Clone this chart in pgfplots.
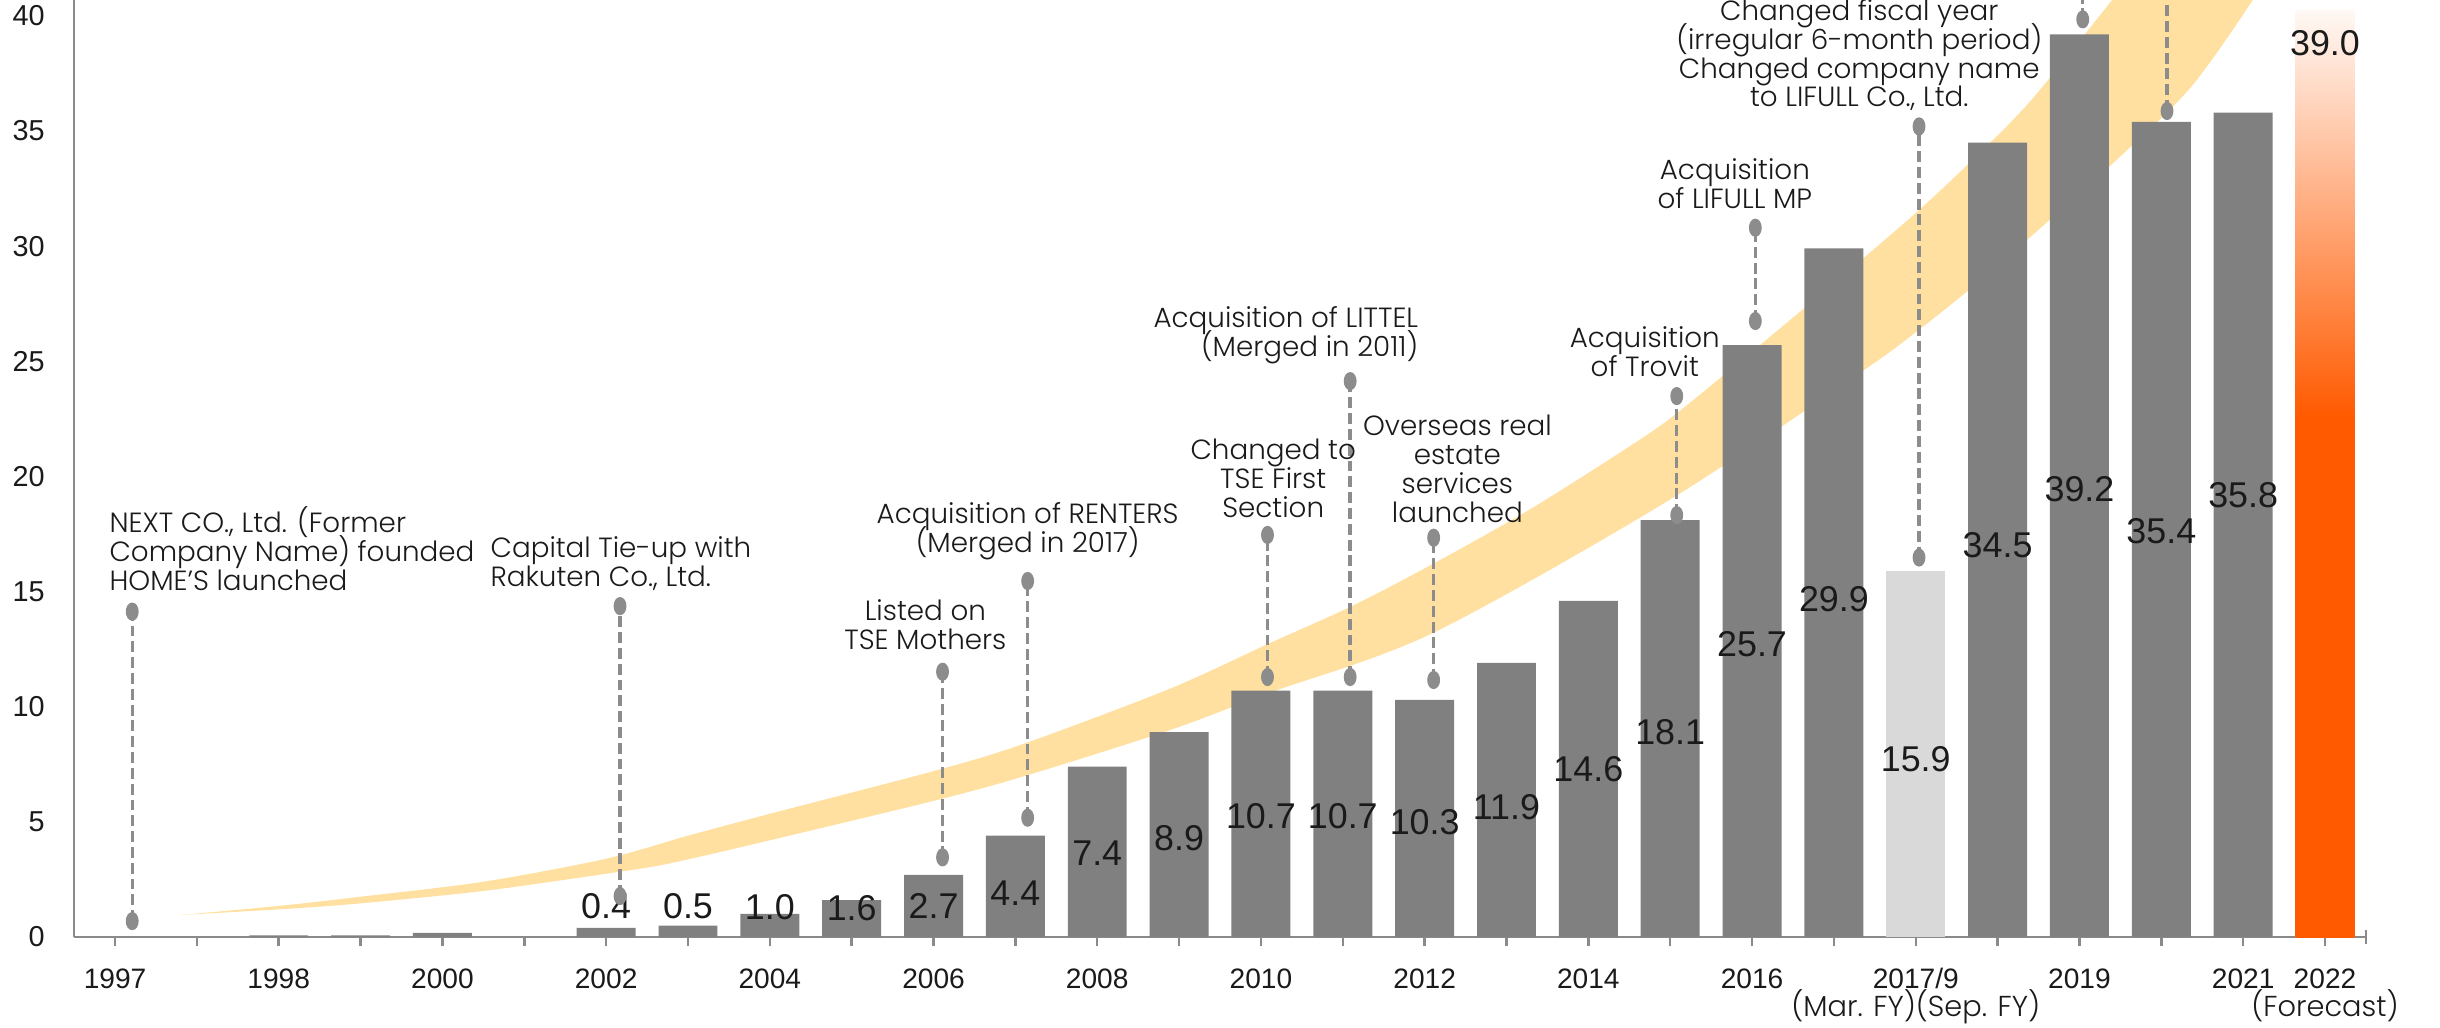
\documentclass[border=0pt]{standalone}
\usepackage{fontspec}
\setmainfont{Liberation Sans}
\newfontfamily\numfont{Liberation Sans}
\newfontfamily\annfont{Poppins Light}
\usepackage{pgfplots}
\pgfplotsset{compat=1.18}

\definecolor{bargray}{HTML}{808080}
\definecolor{lightbar}{HTML}{D9D9D9}
\definecolor{fcorange}{HTML}{FF5A00}
\definecolor{band}{HTML}{FFE0A0}
\definecolor{pincol}{HTML}{8C8C8C}
\definecolor{axisgray}{HTML}{8A8A8A}
\definecolor{txt}{HTML}{1A1A1A}

% forecast bar: solid orange in the lower part, fading out to the top
\pgfdeclareverticalshading{forecast}{100bp}{color(0bp)=(fcorange); color(25bp)=(fcorange); color(53bp)=(fcorange); color(75bp)=(fcorange!4); color(100bp)=(fcorange!4)}

\newcommand\tightlines{\lineskiplimit -20pt\relax}
\newcommand\annsize{\fontsize{7.9}{8.2}\selectfont\tightlines}
\newcommand\ticksize{\fontsize{8}{8}\selectfont\tightlines}
\newcommand\subsize{\fontsize{8.2}{8}\selectfont}
\tikzset{
  ann/.style={font=\annfont\annsize, text=txt, inner sep=0pt},
  val/.style={font=\numfont\fontsize{10.2}{12}\selectfont, text=txt, inner sep=0pt, anchor=center},
}
\pgfplotsset{
  pin/.style={color=pincol, line width=0.95pt, dash pattern=on 3.1pt off 1.4pt,
    mark=*, mark size=1.35pt, mark options={solid, yscale=1.55, fill=pincol, draw=none}},
}

\begin{document}
\begin{tikzpicture}
\path[use as bounding box] (-0.741cm,-0.90cm) rectangle (23.659cm,9.37cm);
\begin{axis}[
    scale only axis,
    width=22.918cm, height=9.37cm,
    xmin=-0.5, xmax=27.5,
    ymin=0, ymax=40.69,
    axis lines=left,
    axis line style={-, draw=axisgray, line width=0.7pt},
    tick align=outside,
    major tick length=0.09cm,
    xtick={0,...,27},
    xticklabels={1997,{},1998,{},2000,{},2002,{},2004,{},2006,{},2008,{},2010,{},2012,{},2014,{},2016,{},
      {2017/9\\{\annfont\subsize (Mar. FY)(Sep. FY)}},{},2019,{},2021,
      {2022\\{\annfont\subsize (Forecast)}}},
    x tick style={draw=axisgray, line width=0.7pt},
    xticklabel style={font=\numfont\ticksize, text=txt, align=center, yshift=-0.10cm},
    extra x ticks={22,27,27.5},
    extra x tick labels={{},{},{}},
    extra x tick style={tick align=center, major tick length=0.135cm},
    ytick={0,5,...,40},
    y tick style={draw=none},
    yticklabel style={font=\numfont\fontsize{8.2}{9.8}\selectfont, text=txt, xshift=-0.08cm},
    /pgf/number format/assume math mode=true,
]

% growth band behind the bars
\addplot[fill=band, draw=none, smooth, tension=0.5] coordinates {
  (0.78,0.95) (2.0,1.35) (3.0,1.75) (4.5,2.4) (6.0,3.4) (7.0,4.4) (8.0,5.35)
  (10.1,7.3) (11.15,8.45) (12.9,10.8) (14.1,12.75) (15.1,14.35) (16.1,16.2)
  (17.3,18.6) (18.5,21.3) (19.1,22.8) (20.4,26.6) (21.4,29.6) (22.05,31.6)
  (22.65,33.6) (23.4,36.3) (24.4,40.7) (25.0,43.5)
  (26.6,43.5) (26.12,40.7) (25.36,36.9) (24.5,33.9) (23.4,30.4) (22.65,28.1)
  (22.05,26.4) (21.36,24.6) (19.0,19.0) (16.1,13.2) (14.1,10.6) (12.9,9.0)
  (11.15,7.03) (10.1,6.0) (8.0,4.2) (6.78,3.2) (6.1,2.8) (4.5,2.0) (2.9,1.43)
  (2.0,1.2)
} --cycle;

% revenue bars
\addplot[ybar, bar width=0.72, fill=bargray, draw=none] coordinates {
  (2,0.07) (3,0.07) (4,0.18) (6,0.4) (7,0.5) (8,1.0) (9,1.6) (10,2.7) (11,4.4)
  (12,7.4) (13,8.9) (14,10.7) (15,10.7) (16,10.3) (17,11.9) (18,14.6) (19,18.1)
  (20,25.7) (21,29.9) (23,34.5) (24,39.2) (25,35.4) (26,35.8)
};
\addplot[ybar, bar width=0.72, fill=lightbar, draw=none] coordinates {(22,15.9)};
\addplot[ybar, bar width=0.72, draw=none, shading=forecast] coordinates {(27,40.25)};

% event pins
\addplot[pin] coordinates {(0.21,0.69) (0.21,14.13)};
\addplot[pin] coordinates {(6.17,1.78) (6.17,14.37)};
\addplot[pin] coordinates {(10.11,3.46) (10.11,11.52)};
\addplot[pin] coordinates {(11.15,5.18) (11.15,15.46)};
\addplot[pin] coordinates {(14.08,11.29) (14.08,17.46)};
\addplot[pin] coordinates {(15.09,11.29) (15.09,24.14)};
\addplot[pin] coordinates {(16.11,11.16) (16.11,17.34)};
\addplot[pin] coordinates {(19.08,18.32) (19.08,23.49)};
\addplot[pin] coordinates {(20.04,26.75) (20.04,30.8)};
\addplot[pin] coordinates {(22.04,16.48) (22.04,35.2)};
\addplot[pin] coordinates {(24.04,39.85) (24.04,44)};
\addplot[pin] coordinates {(25.07,35.87) (25.07,44)};

% event texts
\node[ann, anchor=west, align=left] at (axis cs:-0.075,16.86) {NEXT CO., Ltd. (Former\\Company Name) founded\\HOME’S launched};
\node[ann, anchor=west, align=left] at (axis cs:4.58,16.23) {Capital Tie-up with\\Rakuten Co., Ltd.};
\node[ann, align=center] at (axis cs:9.9,13.56) {Listed on\\TSE Mothers};
\node[ann, align=center] at (axis cs:11.15,17.64) {Acquisition of RENTERS\\(Merged in 2017)};
\node[ann, align=center] at (axis cs:14.15,19.92) {Changed to\\TSE First\\Section};
\node[ann, anchor=east, align=right] at (axis cs:15.93,26.14) {Acquisition of LITTEL\\(Merged in 2011)};
\node[ann, align=center] at (axis cs:16.40,20.33) {Overseas real\\estate\\services\\launched};
\node[ann, align=center] at (axis cs:18.69,25.42) {Acquisition\\of Trovit};
\node[ann, align=center] at (axis cs:19.79,32.73) {Acquisition\\of LIFULL MP};
\node[ann, align=center] at (axis cs:21.31,38.29) {Changed fiscal year\\(irregular 6-month period)\\Changed company name\\to LIFULL Co., Ltd.};

% values
\node[val] at (axis cs:6,1.33) {0.4};
\node[val] at (axis cs:7,1.33) {0.5};
\node[val] at (axis cs:8,1.30) {1.0};
\node[val] at (axis cs:9,1.26) {1.6};
\node[val] at (axis cs:10,1.33) {2.7};
\node[val] at (axis cs:11,1.9) {4.4};
\node[val] at (axis cs:12,3.62) {7.4};
\node[val] at (axis cs:13,4.29) {8.9};
\node[val] at (axis cs:14,5.24) {10.7};
\node[val] at (axis cs:15,5.24) {10.7};
\node[val] at (axis cs:16,4.97) {10.3};
\node[val] at (axis cs:17,5.65) {11.9};
\node[val] at (axis cs:18,7.27) {14.6};
\node[val] at (axis cs:19,8.89) {18.1};
\node[val] at (axis cs:20,12.71) {25.7};
\node[val] at (axis cs:21,14.67) {29.9};
\node[val] at (axis cs:22,7.74) {15.9};
\node[val] at (axis cs:23,17.0) {34.5};
\node[val] at (axis cs:24,19.44) {39.2};
\node[val] at (axis cs:25,17.61) {35.4};
\node[val] at (axis cs:26,19.17) {35.8};
\node[val] at (axis cs:27,38.8) {39.0};

\end{axis}
\end{tikzpicture}
\end{document}
